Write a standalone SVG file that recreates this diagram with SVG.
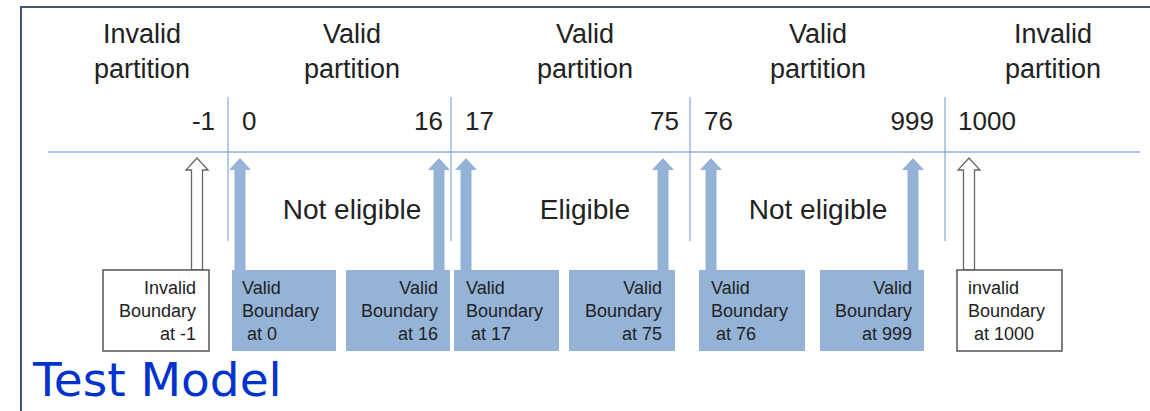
<svg xmlns="http://www.w3.org/2000/svg" width="1150" height="411" viewBox="0 0 1150 411">
<style>
.h{font-family:"Liberation Sans",Arial,sans-serif;font-size:27px;fill:#222;text-anchor:middle}
.n{font-family:"Liberation Sans",Arial,sans-serif;font-size:26px;fill:#222}
.m{font-family:"Liberation Sans",Arial,sans-serif;font-size:28px;fill:#222;text-anchor:middle}
.b{font-family:"Liberation Sans",Arial,sans-serif;font-size:18px;fill:#222}
.r{text-anchor:end}
.grid{stroke:#8eb0dc;stroke-width:1.3;fill:none}
.fb{fill:#95b3d7}
.hb{fill:#fff;stroke:#555;stroke-width:1.5}
.ha{fill:#fff;stroke:#666;stroke-width:1.3}
</style>
<defs>
<path id="arr" d="M-5.5,112 V12 H-11 L0,0 L11,12 H5.5 V112 Z"/>
</defs>
<rect width="1150" height="411" fill="#fff"/>
<path d="M21,411 V7 H1150" fill="none" stroke="#44546a" stroke-width="2"/>
<g id="headers">
<text class="h" x="142" y="43">Invalid</text><text class="h" x="142" y="78">partition</text>
<text class="h" x="352" y="43">Valid</text><text class="h" x="352" y="78">partition</text>
<text class="h" x="585" y="43">Valid</text><text class="h" x="585" y="78">partition</text>
<text class="h" x="818" y="43">Valid</text><text class="h" x="818" y="78">partition</text>
<text class="h" x="1053" y="43">Invalid</text><text class="h" x="1053" y="78">partition</text>
</g>
<g id="numbers">
<text class="n r" x="215" y="130">-1</text>
<text class="n" x="242" y="130">0</text>
<text class="n r" x="443" y="130">16</text>
<text class="n" x="465" y="130">17</text>
<text class="n r" x="679" y="130">75</text>
<text class="n" x="704" y="130">76</text>
<text class="n r" x="934" y="130">999</text>
<text class="n" x="958" y="130">1000</text>
</g>
<g id="grid">
<line class="grid" x1="48" y1="152" x2="1140" y2="152"/>
<line class="grid" x1="228" y1="97" x2="228" y2="241"/>
<line class="grid" x1="451" y1="97" x2="451" y2="241"/>
<line class="grid" x1="690" y1="97" x2="690" y2="241"/>
<line class="grid" x1="945" y1="97" x2="945" y2="241"/>
</g>
<g id="labels">
<text class="m" x="352" y="219">Not eligible</text>
<text class="m" x="585" y="219">Eligible</text>
<text class="m" x="818" y="219">Not eligible</text>
</g>
<g id="connectors">
<use href="#arr" x="197" y="158" class="ha"/>
<use href="#arr" x="240" y="158" class="fb"/>
<use href="#arr" x="439" y="158" class="fb"/>
<use href="#arr" x="466" y="158" class="fb"/>
<use href="#arr" x="663" y="158" class="fb"/>
<use href="#arr" x="711" y="158" class="fb"/>
<use href="#arr" x="913" y="158" class="fb"/>
<use href="#arr" x="969" y="158" class="ha"/>
</g>
<g id="box-inv-1">
<rect class="hb" x="103" y="270" width="106" height="81"/>
<text class="b r" x="196" y="294">Invalid</text><text class="b r" x="196" y="317">Boundary</text><text class="b r" x="196" y="340">at -1</text>
</g>
<g id="box-0">
<rect class="fb" x="232" y="270" width="104" height="81"/>
<text class="b" x="242" y="294">Valid</text><text class="b" x="242" y="317">Boundary</text><text class="b" x="247" y="340">at 0</text>
</g>
<g id="box-16">
<rect class="fb" x="346" y="270" width="104" height="81"/>
<text class="b r" x="438" y="294">Valid</text><text class="b r" x="438" y="317">Boundary</text><text class="b r" x="438" y="340">at 16</text>
</g>
<g id="box-17">
<rect class="fb" x="454" y="270" width="105" height="81"/>
<text class="b" x="466" y="294">Valid</text><text class="b" x="466" y="317">Boundary</text><text class="b" x="471" y="340">at 17</text>
</g>
<g id="box-75">
<rect class="fb" x="569" y="270" width="106" height="81"/>
<text class="b r" x="662" y="294">Valid</text><text class="b r" x="662" y="317">Boundary</text><text class="b r" x="662" y="340">at 75</text>
</g>
<g id="box-76">
<rect class="fb" x="699" y="270" width="106" height="81"/>
<text class="b" x="711" y="294">Valid</text><text class="b" x="711" y="317">Boundary</text><text class="b" x="716" y="340">at 76</text>
</g>
<g id="box-999">
<rect class="fb" x="820" y="270" width="104" height="81"/>
<text class="b r" x="912" y="294">Valid</text><text class="b r" x="912" y="317">Boundary</text><text class="b r" x="912" y="340">at 999</text>
</g>
<g id="box-inv-1000">
<rect class="hb" x="957" y="270" width="105" height="81"/>
<text class="b" x="968" y="294">invalid</text><text class="b" x="968" y="317">Boundary</text><text class="b" x="974" y="340">at 1000</text>
</g>
<text x="33" y="396" font-family="'DejaVu Sans',Verdana,sans-serif" font-size="47" fill="#0033cc">Test Model</text>
</svg>
